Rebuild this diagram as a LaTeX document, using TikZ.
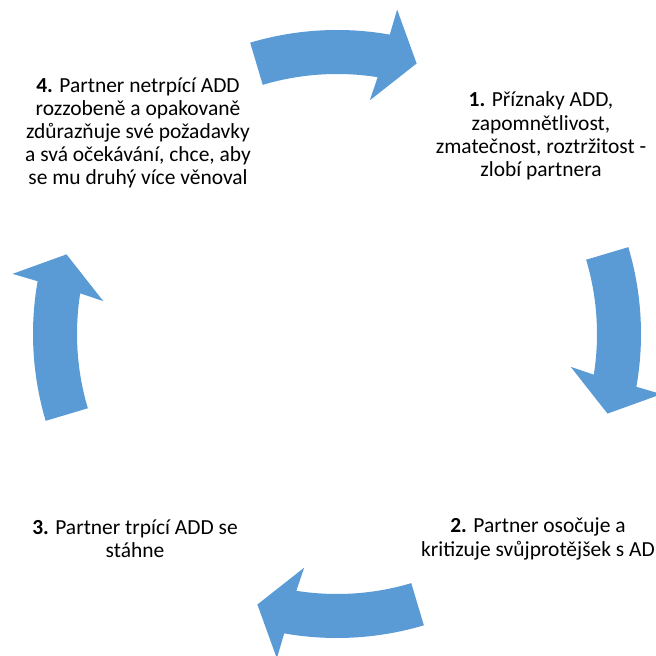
\documentclass[tikz,border=0pt]{standalone}
\usepackage{fontspec}
\setmainfont{Carlito}
\usepackage{xcolor}
\usepackage{tikz}
\usetikzlibrary{calc,positioning}
\definecolor{cycleblue}{HTML}{5B9BD5}

\begin{document}
\begin{tikzpicture}[x=0.75pt,y=0.75pt,
    cyclearrow/.style={fill=cycleblue,draw=none},
    stagetext/.style={align=center,inner sep=0pt,
      font=\fontsize{16.1pt}{17.4pt}\selectfont}]%
    \useasboundingbox (0,0) rectangle (656,656);
    \foreach \r in {0,-90,-180,-270}{
      \begin{scope}[shift={(337,322)},rotate=\r]
        \fill[cyclearrow] (106.6:304) arc[start angle=106.6,end angle=80,radius=304]
          -- (79.5:330) -- (73.6:282) -- (82:236) -- (81:260)
          arc[start angle=81,end angle=106.6,radius=260] -- cycle;
      \end{scope}
    }
    \node[stagetext] (stage1) at (541,520) {\textbf{1.} Příznaky ADD,\\zapomnětlivost,\\zmatečnost, roztržitost -\\zlobí partnera};
    \node[stagetext] (stage2) at (538,117) {\textbf{2.} Partner osočuje a\\kritizuje svůjprotějšek s AD};
    \node[stagetext] (stage3) at (135,117) {\textbf{3.} Partner trpící ADD se\\stáhne};
    \node[stagetext] (stage4) at (138,523) {\textbf{4.} Partner netrpící ADD\\rozzobeně a opakovaně\\zdůrazňuje své požadavky\\a svá očekávání, chce, aby\\se mu druhý více věnoval};
  \end{tikzpicture}
\end{document}
